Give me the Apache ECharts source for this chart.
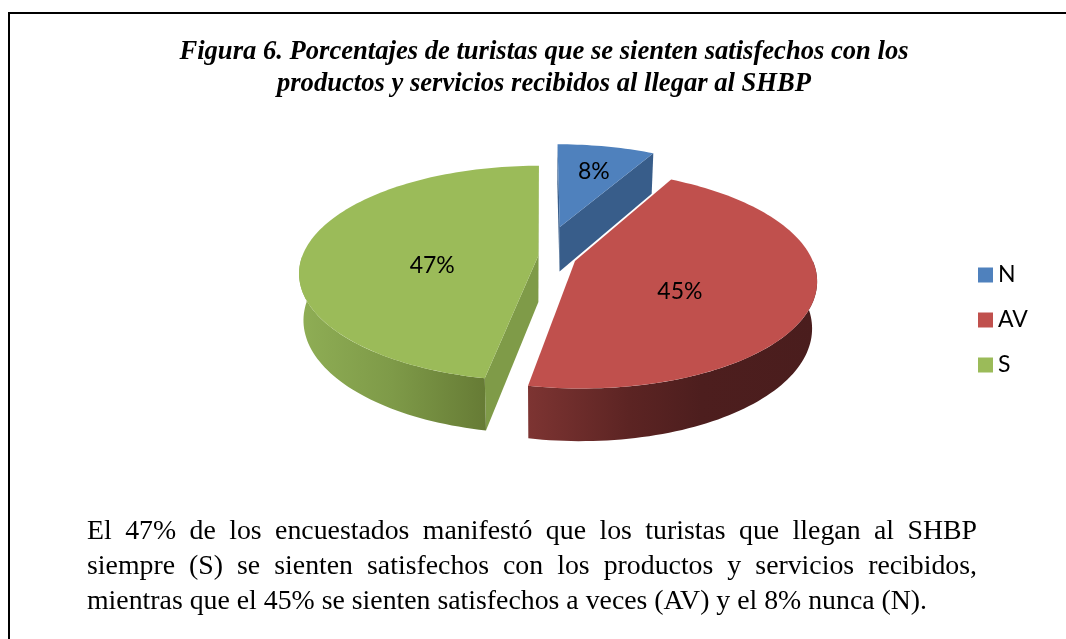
<!DOCTYPE html>
<html><head><meta charset="utf-8">
<script src="https://cdn.jsdelivr.net/npm/echarts@6/dist/echarts.min.js"></script>
<style>html,body{margin:0;padding:0;background:#fff}#c{width:1066px;height:639px}</style>
</head><body><div id="c"></div>
<script>
// ---- data ----
const categories = ['N', 'AV', 'S'];
const values = [8, 45, 47];
const titleLines = [
  'Figura 6. Porcentajes de turistas que se sienten satisfechos con los',
  'productos y servicios recibidos al llegar al SHBP'
];
const paragraphLines = [
  'El 47% de los encuestados manifestó que los turistas que llegan al SHBP',
  'siempre (S) se sienten satisfechos con los productos y servicios recibidos,',
  'mientras que el 45% se sienten satisfechos a veces (AV) y el 8% nunca (N).'
];

// ---- style ----
const topColors = ['#4F81BD', '#C0504D', '#9BBB59'];
const cutColors = ['#385D8A', '#8A3A38', '#7F9B48'];
const wallStops = [
  [[0, '#4A72A6'], [1, '#2E4D73']],
  [[0, '#7D3432'], [0.35, '#5C2423'], [0.6, '#4D1E1E'], [1, '#4A1D1D']],
  [[0, '#8FAE55'], [0.5, '#7E9A48'], [1, '#667B35']]
];
const explode = [0.3, 0.143, 0.02];
const PIE = { cx: 543, cy: 256, S: 236, k: 0.182, sp: 0.444, depth: 0.222 };
const cp = Math.sqrt(1 - PIE.sp * PIE.sp);

function proj(X, Y, Z) {
  const yp = Y * cp + Z * PIE.sp;
  const zp = -Y * PIE.sp + Z * cp;
  const s = PIE.S / (1 + PIE.k * zp);
  return [PIE.cx + X * s, PIE.cy - yp * s];
}
const rad = d => d * Math.PI / 180;
function rim(a0, a1, Y, ox, oz) {
  const n = Math.max(2, Math.ceil((a1 - a0) / 1.5));
  const pts = [];
  for (let i = 0; i <= n; i++) {
    const a = rad(a0 + (a1 - a0) * i / n);
    pts.push(proj(Math.sin(a) + ox, Y, Math.cos(a) + oz));
  }
  return pts;
}
function centroid(pts) {
  let A = 0, x = 0, y = 0;
  for (let i = 0; i < pts.length; i++) {
    const p = pts[i], q = pts[(i + 1) % pts.length];
    const c = p[0] * q[1] - q[0] * p[1];
    A += c; x += (p[0] + q[0]) * c; y += (p[1] + q[1]) * c;
  }
  A /= 2;
  return [x / (6 * A), y / (6 * A)];
}
const camZ = -cp / PIE.k;

const total = values.reduce((a, b) => a + b, 0);
const starts = values.map((v, i) => values.slice(0, i).reduce((a, b) => a + b, 0));

function makeRender(idx) {
  return function (params, api) {
    const v = api.value(0), st = api.value(1), tot = api.value(2);
    const a0 = st / tot * 360, a1 = (st + v) / tot * 360;
    const mid = rad((a0 + a1) / 2);
    const e = explode[idx];
    const ox = e * Math.sin(mid), oz = e * Math.cos(mid);
    const h = -PIE.depth;
    const children = [];
    // radial cut faces
    [[a0, -90], [a1, 90]].forEach(([a, nOff]) => {
      const na = rad(a + nOff);
      const nx = Math.sin(na), nz = Math.cos(na);
      const px = ox + 0.5 * Math.sin(rad(a)), pz = oz + 0.5 * Math.cos(rad(a));
      const dot = nx * (0 - px) + nz * (camZ - pz);
      if (dot > 0) {
        const ar = rad(a);
        children.push({
          type: 'polygon', z2: 1,
          shape: { points: [proj(ox, 0, oz), proj(Math.sin(ar) + ox, 0, Math.cos(ar) + oz),
                            proj(Math.sin(ar) + ox, h, Math.cos(ar) + oz), proj(ox, h, oz)] },
          style: { fill: cutColors[idx], stroke: null }
        });
      }
    });
    // outer wall (front half only)
    const w0 = Math.max(a0, 90), w1 = Math.min(a1, 270);
    if (w1 > w0) {
      const topR = rim(w0, w1, 0, ox, oz);
      const botR = rim(w0, w1, h, ox, oz).reverse();
      children.push({
        type: 'polygon', z2: 2,
        shape: { points: topR.concat(botR) },
        style: { fill: new echarts.graphic.LinearGradient(0, 0, 1, 0,
          wallStops[idx].map(s => ({ offset: s[0], color: s[1] }))), stroke: null }
      });
    }
    // top face
    const topPts = [proj(ox, 0, oz)].concat(rim(a0, a1, 0, ox, oz));
    children.push({
      type: 'polygon', z2: 3,
      shape: { points: topPts },
      style: { fill: topColors[idx], stroke: null }
    });
    const c = centroid(topPts);
    children.push({
      type: 'text', z2: 10, x: c[0] + 3, y: c[1] - 2,
      style: {
        text: Math.round(v / tot * 100) + '%', fill: '#000',
        font: '23px Lato', align: 'center', verticalAlign: 'middle'
      }
    });
    return { type: 'group', children };
  };
}

const order = values.map((v, i) => {
  const mid = rad((starts[i] + v / 2) / total * 360);
  return { i, depth: Math.cos(mid) };
}).sort((a, b) => b.depth - a.depth);
const zOf = {};
order.forEach((o, r) => { zOf[o.i] = r + 2; });

const series = categories.map((name, i) => ({
  type: 'custom', name, coordinateSystem: 'none', silent: true,
  z: zOf[i],
  itemStyle: { color: topColors[i] },
  data: [[values[i], starts[i], total]],
  renderItem: makeRender(i)
}));

// paragraph layout (justified)
const mctx = document.createElement('canvas').getContext('2d');
const paraFont = '27.8px "Liberation Serif"';
mctx.font = paraFont;
const paraLeft = 87, paraRight = 977, paraY = [532, 567, 602];
const graphics = [];
paragraphLines.forEach((line, li) => {
  const words = line.split(' ');
  const widths = words.map(w => mctx.measureText(w).width);
  const sum = widths.reduce((a, b) => a + b, 0);
  const justify = li < paragraphLines.length - 1;
  const gap = justify ? (paraRight - paraLeft - sum) / (words.length - 1) : mctx.measureText(' ').width;
  let x = paraLeft;
  words.forEach((w, wi) => {
    graphics.push({ type: 'text', x, y: paraY[li],
      style: { text: w, font: paraFont, fill: '#000', align: 'left', verticalAlign: 'middle' } });
    x += widths[wi] + gap;
  });
});
titleLines.forEach((t, i) => {
  graphics.push({ type: 'text', x: 544, y: 52 + i * 32,
    style: { text: t, font: 'italic bold 26.6px "Liberation Serif"', fill: '#000',
             align: 'center', verticalAlign: 'middle' } });
});
graphics.push({ type: 'polyline', shape: { points: [[9, 639], [9, 13], [1066, 13]] },
  style: { stroke: '#000', lineWidth: 2, fill: null } });

const chart = echarts.init(document.getElementById('c'), null, { renderer: 'canvas' });
chart.setOption({
  animation: false,
  backgroundColor: '#fff',
  legend: {
    orient: 'vertical', left: 978, top: 263, padding: 0, itemWidth: 15, itemHeight: 15, itemGap: 21,
    icon: 'rect', selectedMode: false, data: categories,
    textStyle: { fontFamily: 'Lato', fontSize: 23, color: '#000', lineHeight: 24 }
  },
  graphic: graphics,
  series
});
</script></body></html>
